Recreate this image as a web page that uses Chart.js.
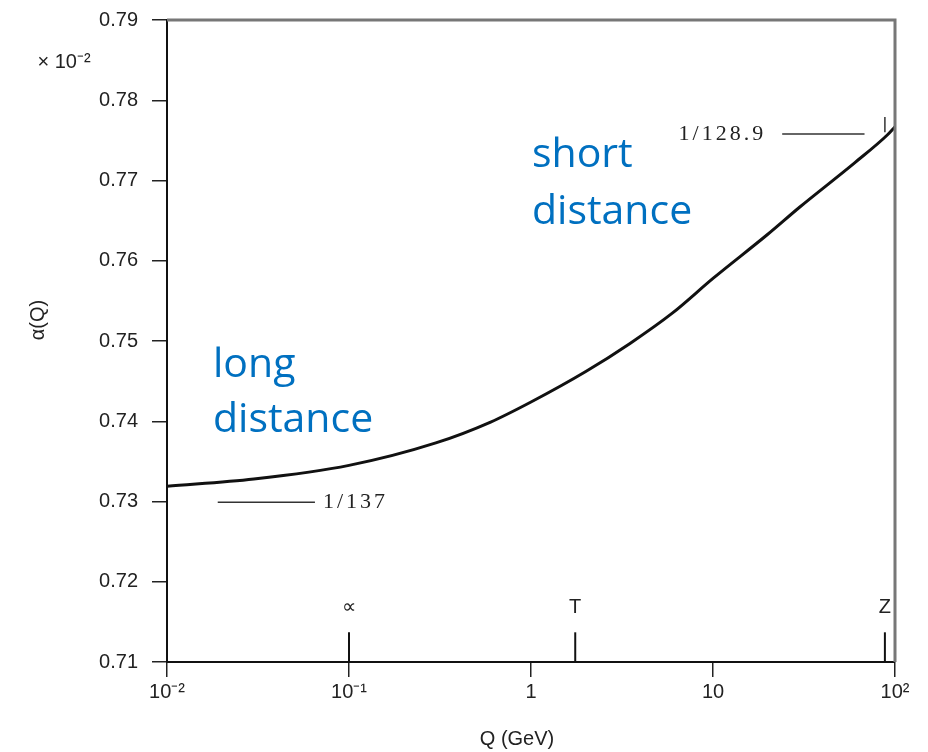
<!DOCTYPE html>
<html>
<head>
<meta charset="utf-8">
<script src="https://cdn.jsdelivr.net/npm/chart.js@4/dist/chart.umd.min.js"></script>
<style>
  html, body { margin: 0; padding: 0; background: #fff; }
  #wrap { width: 928px; height: 752px; }
</style>
</head>
<body>
<div id="wrap"><canvas id="alphaChart" width="928" height="752"></canvas></div>
<script>
// Running coupling alpha(Q) (values in units of 10^-2)
const qValues = [0.01, 0.03, 0.1, 0.3, 0.6, 1, 2, 3.5, 6, 10, 20, 30, 60, 91, 100];
const alphaValues = [0.7319, 0.7328, 0.7345, 0.7373, 0.7399, 0.7424, 0.7462, 0.7497, 0.7535, 0.7578, 0.7633, 0.7667, 0.7722, 0.7757, 0.7767];

// Tick labels
const xTickValues = [0.01, 0.1, 1, 10, 100];
const xTickLabels = ["10\u207B\u00B2", "10\u207B\u00B9", "1", "10", "10\u00B2"];
const yTickValues = [0.71, 0.72, 0.73, 0.74, 0.75, 0.76, 0.77, 0.78, 0.79];

// Particle mass markers on the Q axis
const markerQ = [0.1, 1.75, 88];
const markerLabels = ["\u221D", "T", "Z"];
const markerTop = 0.7137;

// Reference levels 1/137 and 1/128.9
const lowRefQ = [0.019, 0.065];
const lowRefValue = 0.7299;
const highRefQ = [24, 68];
const highRefValue = 0.7758;

// Plugin: frame, marker ticks and the text annotations
const decorations = {
  id: "decorations",
  afterDatasetsDraw(chart) {
    const { ctx, chartArea, scales } = chart;
    const x = scales.x;
    const y = scales.y;
    ctx.save();

    // top and right frame
    ctx.strokeStyle = "#777";
    ctx.lineWidth = 3;
    ctx.beginPath();
    ctx.moveTo(chartArea.left, chartArea.top);
    ctx.lineTo(chartArea.right, chartArea.top);
    ctx.lineTo(chartArea.right, chartArea.bottom);
    ctx.stroke();

    // marker ticks
    ctx.strokeStyle = "#111";
    ctx.lineWidth = 2;
    ctx.fillStyle = "#222";
    ctx.font = "20px 'Liberation Sans'";
    ctx.textAlign = "center";
    ctx.textBaseline = "middle";
    markerQ.forEach((q, i) => {
      const px = x.getPixelForValue(q);
      ctx.beginPath();
      ctx.moveTo(px, y.getPixelForValue(0.71));
      ctx.lineTo(px, y.getPixelForValue(markerTop));
      ctx.stroke();
      ctx.fillText(markerLabels[i], px, y.getPixelForValue(markerTop) - 25);
    });

    // reference labels
    ctx.font = "22px 'Liberation Serif'";
    ctx.letterSpacing = "3px";
    ctx.textAlign = "left";
    ctx.fillText("1/137", x.getPixelForValue(lowRefQ[1]) + 8, y.getPixelForValue(lowRefValue));
    ctx.textAlign = "right";
    ctx.fillText("1/128.9", x.getPixelForValue(highRefQ[0]) - 16, y.getPixelForValue(highRefValue));
    ctx.letterSpacing = "0px";

    // blue annotations
    ctx.fillStyle = "#0070C0";
    ctx.font = "41px 'Open Sans'";
    ctx.textAlign = "left";
    ctx.fillText("short", 532, 155);
    ctx.fillText("distance", 532, 212);
    ctx.fillText("long", 213, 365);
    ctx.fillText("distance", 213, 420);

    // axis titles
    ctx.fillStyle = "#222";
    ctx.font = "20px 'Liberation Sans'";
    ctx.textAlign = "center";
    ctx.fillText("Q (GeV)", 517, 739);
    ctx.fillText("\u00D7 10\u207B\u00B2", 64, 62);
    ctx.save();
    ctx.translate(38, 320);
    ctx.rotate(-Math.PI / 2);
    ctx.fillText("\u03B1(Q)", 0, 0);
    ctx.restore();

    ctx.restore();
  }
};

const ctx = document.getElementById("alphaChart").getContext("2d");
new Chart(ctx, {
  type: "line",
  data: {
    datasets: [
      {
        label: "alpha(Q)",
        data: qValues.map((q, i) => ({ x: q, y: alphaValues[i] })),
        borderColor: "#111",
        borderWidth: 3,
        pointRadius: 0,
        cubicInterpolationMode: "monotone",
        fill: false
      },
      {
        label: "1/137",
        data: lowRefQ.map((q) => ({ x: q, y: lowRefValue })),
        borderColor: "#333",
        borderWidth: 1.5,
        pointRadius: 0
      },
      {
        label: "1/128.9",
        data: highRefQ.map((q) => ({ x: q, y: highRefValue })),
        borderColor: "#333",
        borderWidth: 1.5,
        pointRadius: 0
      },
      {
        label: "Z stub",
        data: [{ x: markerQ[2], y: 0.7760 }, { x: markerQ[2], y: 0.7779 }],
        borderColor: "#333",
        borderWidth: 1.5,
        pointRadius: 0
      }
    ]
  },
  options: {
    responsive: false,
    animation: false,
    layout: { padding: { top: 20, right: 33, left: 0, bottom: 0 } },
    plugins: {
      legend: { display: false },
      tooltip: { enabled: false }
    },
    scales: {
      x: {
        type: "logarithmic",
        min: 0.01,
        max: 100,
        afterBuildTicks: (scale) => {
          scale.ticks = xTickValues.map((v) => ({ value: v }));
        },
        afterFit: (scale) => {
          scale.height = 90;
          scale.paddingRight = 0;
        },
        ticks: {
          autoSkip: false,
          maxRotation: 0,
          color: "#222",
          font: { family: "Liberation Sans", size: 20 },
          padding: 3,
          callback: (value) => {
            const i = xTickValues.indexOf(value);
            return i >= 0 ? xTickLabels[i] : "";
          }
        },
        grid: {
          drawOnChartArea: false,
          drawTicks: true,
          tickLength: 15,
          color: "#222",
          lineWidth: 1.5
        },
        border: { display: true, color: "#111", width: 2 }
      },
      y: {
        type: "linear",
        min: 0.71,
        max: 0.79,
        afterBuildTicks: (scale) => {
          scale.ticks = yTickValues.map((v) => ({ value: v }));
        },
        afterFit: (scale) => {
          scale.width = 167;
          scale.paddingTop = 0;
          scale.paddingBottom = 0;
        },
        ticks: {
          color: "#222",
          font: { family: "Liberation Sans", size: 20 },
          padding: 14,
          callback: (value) => value.toFixed(2)
        },
        grid: {
          drawOnChartArea: false,
          drawTicks: true,
          tickLength: 15,
          color: "#222",
          lineWidth: 1.5
        },
        border: { display: true, color: "#111", width: 2 }
      }
    }
  },
  plugins: [decorations]
});
</script>
</body>
</html>
